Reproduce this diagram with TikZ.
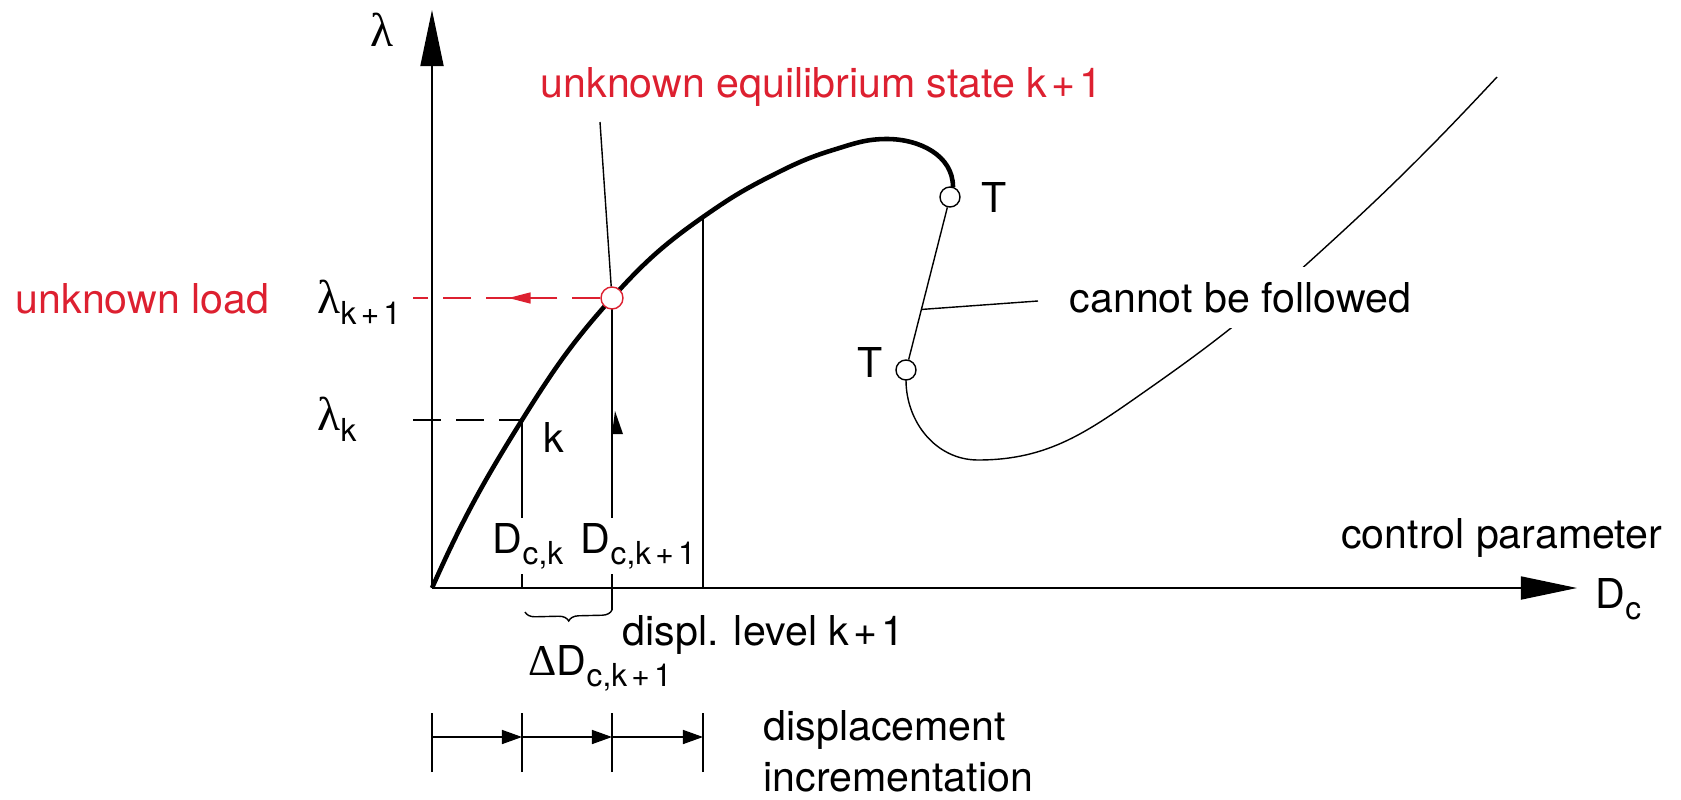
\documentclass[tikz,border=0pt]{standalone}
\usepackage{fontspec}
\setmainfont{TeX Gyre Heros}
\newfontfamily\lamfont{Liberation Serif}
\usetikzlibrary{arrows.meta,calc,decorations.pathreplacing,decorations.markings}
\definecolor{loadred}{RGB}{221,32,48}
\newcommand{\lam}{{\lamfont\fontsize{13.5}{14}\selectfont λ}}
\newcommand{\lowsub}[1]{\raisebox{-3.2pt}{\fontsize{9}{10}\selectfont #1}}
\newcommand{\kpo}{k\kern1.2pt+\kern1.2pt1}

\begin{document}
\begin{tikzpicture}[x=0.01cm, y=0.01cm, inner sep=0pt, font=\fontsize{11.7}{14.5}\selectfont,
    axisline/.style={line width=0.5pt, -{Triangle[length=0.56cm, width=0.23cm]}},
    guide/.style={line width=0.4pt},
    levelline/.style={line width=0.4pt, dash pattern=on 0.28cm off 0.15cm},
    turnpt/.style={circle, draw, fill=white, line width=0.4pt, minimum size=0.2cm},
    gaplabel/.style={fill=white, inner sep=1.5pt},
    incr/.style={line width=0.4pt, -{Triangle[length=0.2cm, width=0.14cm]}}]
    \useasboundingbox (0,0) rectangle (1681,799);

    % Points of the equilibrium path
    \coordinate (O) at (432,211);
    \coordinate (k) at (522,379);
    \coordinate (pkk) at (612,501);
    \coordinate (p3) at (703,582);
    \coordinate (pa) at (767,621);
    \coordinate (pb) at (833,649);
    \coordinate (peak) at (887,660);
    \coordinate (tu) at (950,602);
    \coordinate (tl) at (906,429);
    \coordinate (vmin) at (978,339);
    \coordinate (va) at (1147,409);
    \coordinate (vb) at (1298,527);
    \coordinate (vend) at (1497,722);

    % Axes
    \coordinate (ytip) at (432,789);
    \coordinate (xtip) at (1577,211);
    \draw[axisline] (O) -- (ytip);
    \draw[axisline] (O) -- (xtip);
    \node (lam) at (382,769) {\lam};
    \node[anchor=base east] (ctrl) at (1663,251) {control parameter};
    \node[anchor=base west] (dc) at (1595,191) {D\lowsub{c}};

    % Level lines
    \coordinate (lk) at (413,379);
    \draw[levelline] (lk) -- (k);
    \draw[guide] (k) -- (k |- O);
    \coordinate (dk1) at (612,189);
    \draw[guide] (pkk) -- (dk1);
    \draw[guide] (p3) -- (p3 |- O);

    % Equilibrium path
    \draw[line width=1.3pt] (O) to[out=66,in=-122] (k) to[out=58,in=-132] (pkk)
        to[out=48,in=-145] (p3) to[out=35,in=-153] (pa) to[out=27,in=-163] (pb)
        to[out=17,in=180] (peak) to[out=0,in=90] ($(tu)+(3,10)$);
    \draw[guide] ($(tl)+(0,-10)$) to[out=-90,in=180] (vmin) to[out=0,in=-145] (va)
        to[out=35,in=-139] (vb) to[out=42,in=-133] (vend);

    % Turning points
    \node[turnpt] (Tu) at (tu) {};
    \node[turnpt] (Tl) at (tl) {};
    \node[turnpt, draw=loadred, minimum size=0.22cm] (kk) at (pkk) {};
    \draw[guide] (Tu) -- (Tl);
    \node (tlabu) at (994,602) {T};
    \node (tlabl) at (870,437) {T};

    % Snap-back part
    \coordinate (seg) at ($(Tu)!0.65!(Tl)$);
    \coordinate (cbf) at (1038,498);
    \draw[guide] (seg) -- (cbf);
    \node[anchor=base west, fill=white, inner sep=0.15cm] (follow) at (1054,487) {cannot be followed};

    % Unknown state k+1
    \coordinate (ttl) at (600,677);
    \draw[guide] (ttl) -- (kk);
    \node[anchor=base west, text=loadred] (state) at (540,702) {unknown equilibrium state \kpo};
    \coordinate (lkk) at (413,501);
    \draw[loadred, levelline, postaction={decorate}, decoration={markings,
        mark=at position 0.49 with {\arrow[solid]{Triangle[length=0.22cm, width=0.11cm]}}}] (kk) -- (lkk);
    \node[anchor=base west, text=loadred] (load) at (15,486) {unknown load};
    \node[anchor=base west] (lamkk) at (317,486) {\lam\lowsub{\kpo}};
    \node[anchor=base west] (lamk) at (317,369) {\lam\lowsub{k}};

    % Displacement labels
    \node[anchor=base west, gaplabel] (dck) at (487,246) {D\lowsub{c,k}};
    \node[anchor=base west, gaplabel] (dckk) at (575,246) {D\lowsub{c,\kpo}};
    \node (klab) at (554,362) {k};
    \fill (612,365) -- (623,365) -- (615,388) -- cycle;

    % Increment
    \coordinate (bl) at (525,187);
    \draw[guide, decorate, decoration={brace, mirror, amplitude=0.1cm}] (bl) -- (dk1);
    \node[anchor=base west] (dD) at (528,124) {{\lamfont\fontsize{12.5}{14}\selectfont Δ}D\lowsub{c,\kpo}};
    \node[anchor=base west] (lvl) at (622,154) {displ. level \kpo};

    % Displacement incrementation
    \draw[guide] (432,27) -- (432,86);
    \draw[guide] (522,27) -- (522,86);
    \draw[guide] (612,27) -- (612,86);
    \draw[guide] (703,27) -- (703,86);
    \draw[incr] (432,62) -- (522,62);
    \draw[incr] (522,62) -- (612,62);
    \draw[incr] (612,62) -- (703,62);
    \node[anchor=north west, align=left] (dinc) at (763,89) {displacement\\incrementation};
\end{tikzpicture}
\end{document}
